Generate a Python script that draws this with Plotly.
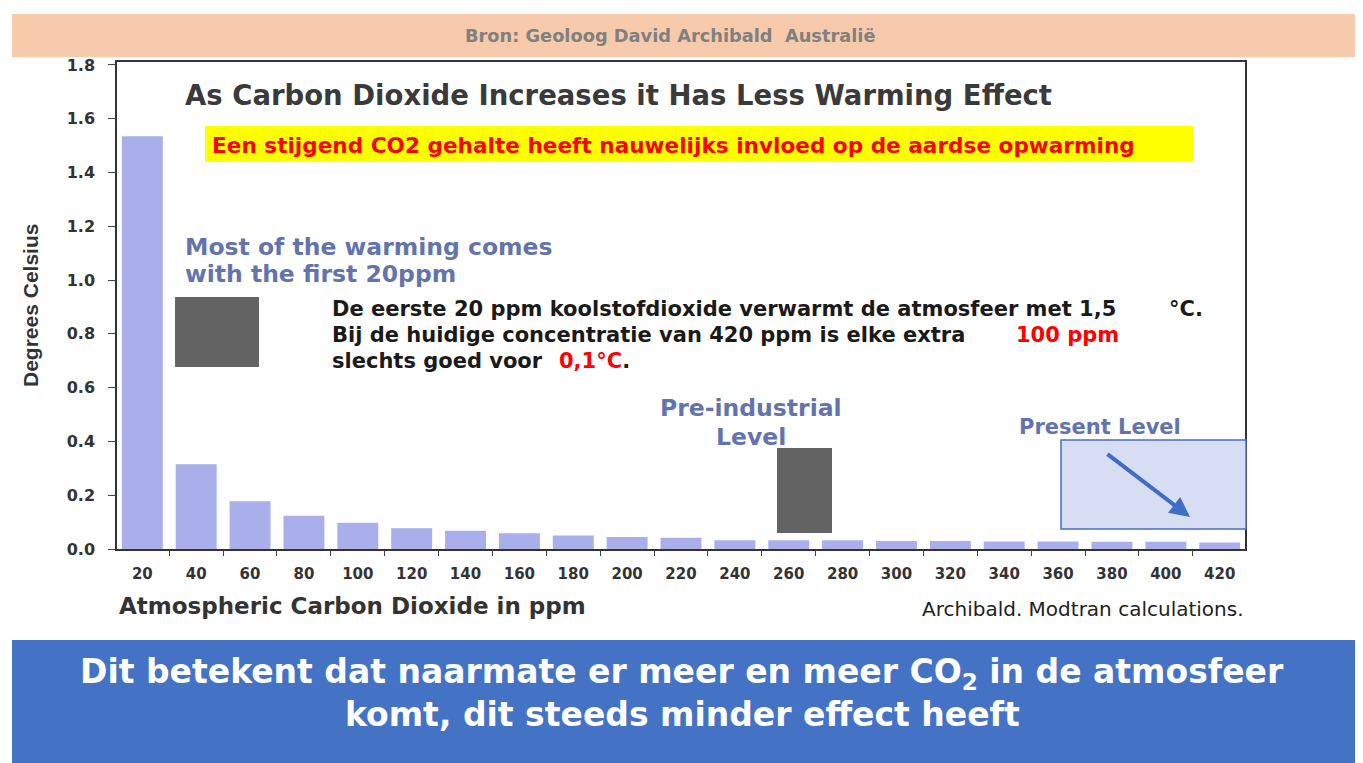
import plotly.graph_objects as go

# ---- data ----
ppm_labels = ["20", "40", "60", "80", "100", "120", "140", "160", "180", "200", "220",
              "240", "260", "280", "300", "320", "340", "360", "380", "400", "420"]
warming_c = [1.535, 0.315, 0.178, 0.124, 0.098, 0.077, 0.068, 0.059, 0.050, 0.045, 0.042,
             0.033, 0.033, 0.033, 0.030, 0.030, 0.028, 0.028, 0.027, 0.027, 0.024]
y_ticks = [0.0, 0.2, 0.4, 0.6, 0.8, 1.0, 1.2, 1.4, 1.6, 1.8]

# page body has an 8px margin -> figure is 8px smaller than the window
OFF = 8
W, H = 1363 - OFF, 763 - OFF
L, R, T, B = 117, 1245, 62, 549   # plot area in window pixels


def px(x):
    return (x - L) / (R - L)


def py(y):
    return (B - y) / (B - T)


BOLD = "DejaVu Sans"
fig = go.Figure()
fig.add_trace(go.Bar(
    x=ppm_labels, y=warming_c, width=0.76,
    marker=dict(color="#a9afeb", line=dict(width=0)),
    hoverinfo="x+y",
))

shapes = []
annotations = []


def note(x, y, text, size, color, family=BOLD, xanchor="left", **kw):
    annotations.append(dict(xref="paper", yref="paper", x=px(x), y=py(y), text=text,
                            showarrow=False, xanchor=xanchor, yanchor="middle",
                            font=dict(family=family, size=size, color=color), **kw))


# banner top
shapes.append(dict(type="rect", xref="paper", yref="paper", x0=px(12), x1=px(1362),
                   y0=py(57), y1=py(14), fillcolor="#f7caab", line=dict(width=0), layer="above"))
note(670, 35, "<b>Bron: Geoloog David Archibald  Australië</b>", 17.8, "#808080",
     xanchor="center")

# title
note(183, 95, "<b>As Carbon Dioxide Increases it Has Less Warming Effect</b>", 27.5, "#3a3a3a")

# yellow box
shapes.append(dict(type="rect", xref="paper", yref="paper", x0=px(205), x1=px(1193),
                   y0=py(162), y1=py(126), fillcolor="#ffff00", line=dict(width=0)))
note(210, 145, "<b>Een stijgend CO2 gehalte heeft nauwelijks invloed op de aardse opwarming</b>",
     21.6, "#ff0000")

blue_grey = "#6373ad"
note(183, 247, "<b>Most of the warming comes</b>", 23.5, blue_grey)
note(183, 274, "<b>with the first 20ppm</b>", 23.5, blue_grey)

# dark grey rectangles
shapes.append(dict(type="rect", xref="paper", yref="paper", x0=px(175), x1=px(259),
                   y0=py(367), y1=py(297), fillcolor="#636363", line=dict(width=0)))
shapes.append(dict(type="rect", xref="paper", yref="paper", x0=px(777), x1=px(832),
                   y0=py(533), y1=py(448), fillcolor="#636363", line=dict(width=0)))

black = "#1a1a1a"
red = "#ff0000"
fs = 21
note(330, 309, "<b>De eerste 20 ppm koolstofdioxide verwarmt de atmosfeer met 1,5</b>", fs, black)
note(1167, 309, "<b>°C.</b>", fs, black)
note(330, 335, "<b>Bij de huidige concentratie van 420 ppm is elke extra</b>", fs, black)
note(1014, 335, "<b>100 ppm</b>", fs, red)
note(330, 361, "<b>slechts goed voor</b>", fs, black)
note(557, 361, f"<b><span style='color:{red}'>0,1°C</span>.</b>", fs, black)

note(751, 408, "<b>Pre-industrial</b>", 23.5, blue_grey, xanchor="center")
note(751, 437, "<b>Level</b>", 23.5, blue_grey, xanchor="center")
note(1100, 427, "<b>Present Level</b>", 21, blue_grey, xanchor="center")

shapes.append(dict(type="rect", xref="paper", yref="paper", x0=px(1061), x1=px(1246),
                   y0=py(529), y1=py(440), fillcolor="#d7def3",
                   line=dict(width=1.5, color="#4a6fc0")))
annotations.append(dict(xref="paper", yref="paper", x=px(1190), y=py(517), text="",
                        showarrow=True, axref="pixel", ayref="pixel", ax=-84, ay=-64,
                        arrowhead=2, arrowsize=1, arrowwidth=4, arrowcolor="#3f6cc4"))

# axis titles / notes
note(30, 306, "<b>Degrees Celsius</b>", 21, "#333333",
     family="Liberation Sans Narrow, Liberation Sans", xanchor="center", textangle=-90)
note(117, 606, "<b>Atmospheric Carbon Dioxide in ppm</b>", 23, "#333333")
note(1246, 609, "Archibald. Modtran calculations.", 20, "#222222", xanchor="right")

# bottom blue box
shapes.append(dict(type="rect", xref="paper", yref="paper", x0=px(12), x1=px(1362),
                   y0=py(775), y1=py(640), fillcolor="#4472c4", line=dict(width=0), layer="above"))
note(682, 673, "<b>Dit betekent dat naarmate er meer en meer CO<sub>2</sub> in de atmosfeer</b>",
     33, "#ffffff", xanchor="center")
note(682, 714, "<b>komt, dit steeds minder effect heeft</b>", 33, "#ffffff", xanchor="center")

fig.update_layout(
    width=W, height=H, autosize=False,
    margin=dict(l=L - OFF, r=W - (R - OFF), t=T - OFF, b=H - (B - OFF), pad=0),
    paper_bgcolor="#ffffff", plot_bgcolor="#ffffff",
    showlegend=False,
    shapes=shapes, annotations=annotations,
    xaxis=dict(type="category", range=[-0.47, 20.47], tickson="boundaries",
               ticks="outside", ticklen=5, tickcolor="#444", tickwidth=1.2,
               showline=True, linecolor="#333", linewidth=1.5, mirror=True,
               showgrid=False, ticklabelstandoff=10,
               tickfont=dict(family=BOLD, size=15, color="#333333", weight="bold")),
    yaxis=dict(range=[0, 1.811], tickvals=y_ticks, ticktext=[f"{v:.1f}" for v in y_ticks],
               ticks="outside", ticklen=7, tickcolor="#444", tickwidth=1.2,
               showline=True, linecolor="#333", linewidth=1.5, mirror=True,
               showgrid=False, zeroline=False, ticklabelstandoff=10,
               tickfont=dict(family=BOLD, size=16, color="#333333", weight="bold")),
)

fig.write_html("out.html")
